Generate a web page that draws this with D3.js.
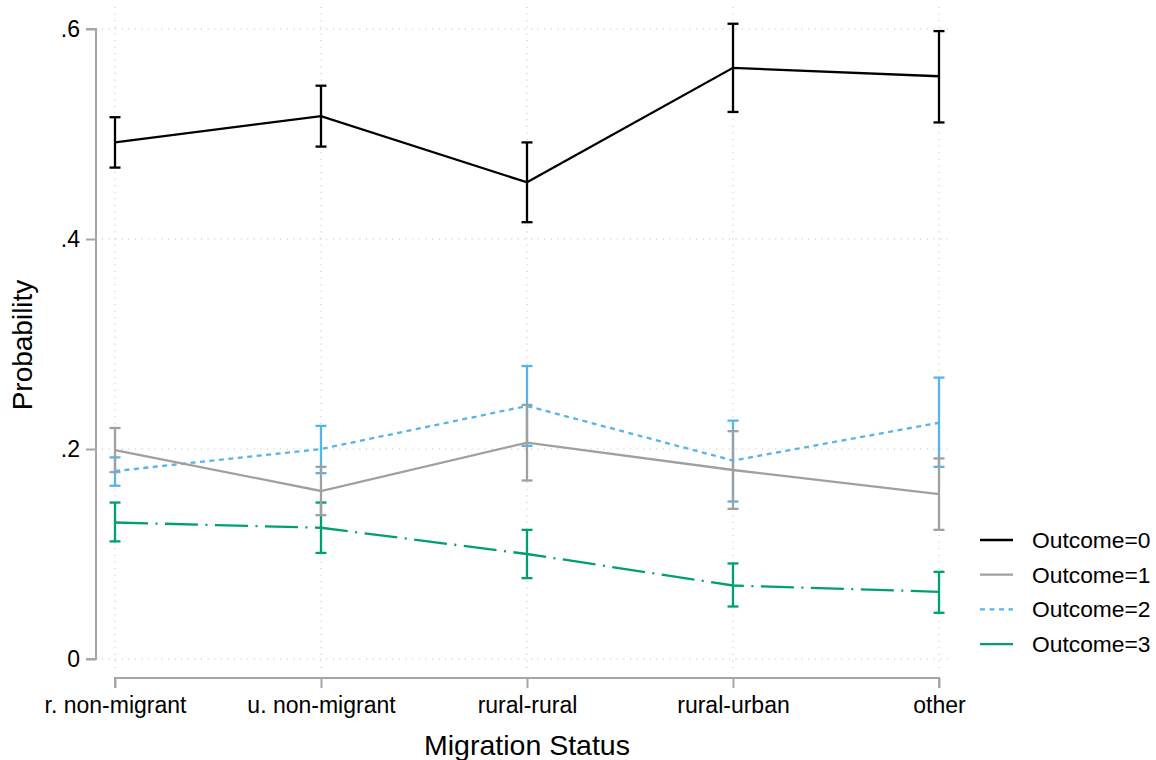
<!DOCTYPE html>
<html>
<head>
<meta charset="utf-8">
<script src="https://cdn.jsdelivr.net/npm/d3@7/dist/d3.min.js"></script>
<style>
  html, body { margin: 0; padding: 0; background: #fff; }
  svg { display: block; font-family: "Liberation Sans", Arial, Helvetica, sans-serif; }
</style>
</head>
<body>
<svg id="chart" width="1156" height="760"></svg>
<script>
// Predictive margins by migration status, with 95% CIs
const categories = ["r. non-migrant", "u. non-migrant", "rural-rural", "rural-urban", "other"];
const seriesNames = ["Outcome=0", "Outcome=1", "Outcome=2", "Outcome=3"];

const outcome0 = [0.492, 0.517, 0.454, 0.563, 0.555];
const outcome0Lo = [0.468, 0.488, 0.416, 0.521, 0.511];
const outcome0Hi = [0.516, 0.546, 0.492, 0.605, 0.598];

const outcome1 = [0.199, 0.160, 0.206, 0.180, 0.157];
const outcome1Lo = [0.178, 0.137, 0.170, 0.143, 0.123];
const outcome1Hi = [0.220, 0.183, 0.242, 0.217, 0.191];

const outcome2 = [0.179, 0.200, 0.241, 0.189, 0.225];
const outcome2Lo = [0.165, 0.177, 0.203, 0.150, 0.183];
const outcome2Hi = [0.192, 0.222, 0.279, 0.227, 0.268];

const outcome3 = [0.130, 0.125, 0.100, 0.070, 0.064];
const outcome3Lo = [0.112, 0.101, 0.077, 0.050, 0.044];
const outcome3Hi = [0.149, 0.149, 0.123, 0.091, 0.083];

const yTicks = [0, 0.2, 0.4, 0.6];
const yTickLabels = ["0", ".2", ".4", ".6"];

const series = [
  { name: seriesNames[0], est: outcome0, lo: outcome0Lo, hi: outcome0Hi, color: "#000000", dash: null },
  { name: seriesNames[1], est: outcome1, lo: outcome1Lo, hi: outcome1Hi, color: "#a0a0a0", dash: null },
  { name: seriesNames[2], est: outcome2, lo: outcome2Lo, hi: outcome2Hi, color: "#56b4e9", dash: "5,4.5" },
  { name: seriesNames[3], est: outcome3, lo: outcome3Lo, hi: outcome3Hi, color: "#009e73", dash: "33,7.5,2,7.5" }
];

const svg = d3.select("#chart");
const font = "'Liberation Sans', Arial, Helvetica, sans-serif";

const x = d3.scalePoint().domain(categories).range([115, 939]);
const y = d3.scaleLinear().domain([0, 0.6]).range([659, 29]);

// plot-region grid
const grid = svg.append("g").attr("class", "grid");
grid.selectAll("line.h").data(yTicks).enter().append("line")
  .attr("x1", 102).attr("x2", 952)
  .attr("y1", d => y(d)).attr("y2", d => y(d))
  .attr("stroke", "#bdbdbd").attr("stroke-width", 1)
  .attr("stroke-dasharray", "1,5.6");
grid.selectAll("line.v").data(categories).enter().append("line")
  .attr("x1", d => x(d)).attr("x2", d => x(d))
  .attr("y1", 7).attr("y2", 671)
  .attr("stroke", "#bdbdbd").attr("stroke-width", 1)
  .attr("stroke-dasharray", "1,5.6");

// y axis
const yAxis = d3.axisLeft(y).tickValues(yTicks)
  .tickFormat((d, i) => yTickLabels[i]).tickSize(10).tickPadding(6);
const gy = svg.append("g").attr("transform", "translate(96,0)").call(yAxis);
gy.select(".domain").attr("stroke", "#a6a6a6").attr("stroke-width", 2)
  .attr("d", `M-10,${y(0.6)}H0V${y(0)}H-10`);
gy.selectAll(".tick line").attr("stroke", "#a6a6a6").attr("stroke-width", 2);
gy.selectAll(".tick text").attr("font-family", font).attr("font-size", 23)
  .attr("fill", "#000");

// x axis
const xAxis = d3.axisBottom(x).tickSize(10).tickPadding(9);
const gx = svg.append("g").attr("transform", "translate(0,678)").call(xAxis);
gx.select(".domain").attr("stroke", "#a6a6a6").attr("stroke-width", 2)
  .attr("d", `M${x(categories[0])},10V0H${x(categories[4])}V10`);
gx.selectAll(".tick line").attr("stroke", "#a6a6a6").attr("stroke-width", 2);
gx.selectAll(".tick text").attr("font-family", font).attr("font-size", 23)
  .attr("fill", "#000");

// axis titles
svg.append("text").attr("x", 527).attr("y", 755).attr("text-anchor", "middle")
  .attr("font-family", font).attr("font-size", 28.5).text("Migration Status");
svg.append("text").attr("transform", "translate(32,345) rotate(-90)")
  .attr("text-anchor", "middle").attr("font-family", font).attr("font-size", 28)
  .text("Probability");

// confidence intervals with caps
const capHalf = 5.5;
const ciLayer = svg.append("g");
[3, 2, 1, 0].forEach(si => {
  const s = series[si];
  const g = ciLayer.append("g");
  categories.forEach((c, i) => {
    const cx = x(c);
    g.append("line").attr("x1", cx).attr("x2", cx)
      .attr("y1", y(s.lo[i])).attr("y2", y(s.hi[i]))
      .attr("stroke", s.color).attr("stroke-width", 2.3);
    [s.lo[i], s.hi[i]].forEach(v => {
      g.append("line").attr("x1", cx - capHalf).attr("x2", cx + capHalf)
        .attr("y1", y(v)).attr("y2", y(v))
        .attr("stroke", s.color).attr("stroke-width", 2.3);
    });
  });
});

// connected estimates
const line = d3.line().x((d, i) => x(categories[i])).y(d => y(d));
const lineLayer = svg.append("g");
[3, 2, 1, 0].forEach(si => {
  const s = series[si];
  lineLayer.append("path").datum(s.est)
    .attr("d", line).attr("fill", "none")
    .attr("stroke", s.color).attr("stroke-width", 2.3)
    .attr("stroke-dasharray", s.dash);
});

// legend
const legend = svg.append("g");
series.forEach((s, i) => {
  const ly = 540 + i * 34.7;
  legend.append("line").attr("x1", 980).attr("x2", 1013)
    .attr("y1", ly).attr("y2", ly)
    .attr("stroke", s.color).attr("stroke-width", 2.3)
    .attr("stroke-dasharray", i === 2 ? "5,4.5" : null);
  legend.append("text").attr("x", 1032).attr("y", ly + 8)
    .attr("font-family", font).attr("font-size", 22.8).text(s.name);
});
</script>
</body>
</html>
